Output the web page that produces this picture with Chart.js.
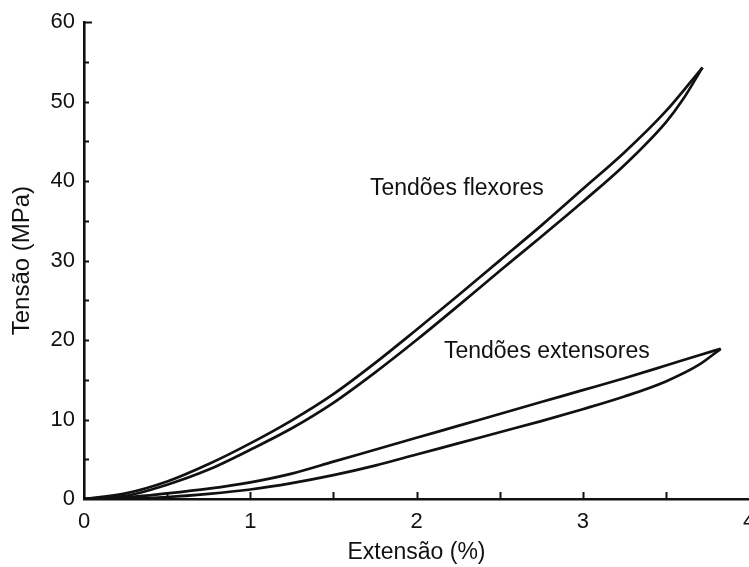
<!DOCTYPE html>
<html><head><meta charset="utf-8">
<script src="https://cdn.jsdelivr.net/npm/chart.js@4/dist/chart.umd.min.js"></script>
<style>
html,body{margin:0;padding:0;background:#fff;overflow:hidden;width:749px;height:567px}
#wrap{width:770px;height:567px;position:relative}
</style></head>
<body><div id="wrap"><canvas id="c"></canvas></div>
<script>
// Extensão (%) / Tensão (MPa)
const flexorLoadingX   = [0, 0.25, 0.5, 0.75, 1.0, 1.25, 1.5, 1.75, 2.0, 2.25, 2.5, 2.75, 3.0, 3.25, 3.5, 3.72];
const flexorLoadingY   = [0, 0.7, 2.2, 4.4, 7.0, 9.9, 13.2, 17.1, 21.3, 25.6, 30.0, 34.4, 39.0, 43.6, 48.8, 54.3];
const flexorUnloadingX = [0, 0.25, 0.5, 0.75, 1.0, 1.25, 1.5, 1.75, 2.0, 2.25, 2.5, 2.75, 3.0, 3.25, 3.5, 3.6, 3.72];
const flexorUnloadingY = [0, 0.4, 1.8, 3.7, 6.2, 8.9, 12.1, 15.9, 20.0, 24.3, 28.7, 33.0, 37.4, 42.0, 47.4, 50.2, 54.3];
const extensorLoadingX   = [0, 0.25, 0.5, 0.75, 1.0, 1.25, 1.5, 1.75, 2.0, 2.25, 2.5, 2.75, 3.0, 3.25, 3.5, 3.7, 3.83];
const extensorLoadingY   = [0, 0.2, 0.7, 1.3, 2.1, 3.2, 4.7, 6.2, 7.7, 9.2, 10.7, 12.2, 13.7, 15.2, 16.8, 18.1, 18.9];
const extensorUnloadingX = [0, 0.25, 0.5, 0.75, 1.0, 1.25, 1.5, 1.75, 2.0, 2.25, 2.5, 2.75, 3.0, 3.25, 3.5, 3.7, 3.83];
const extensorUnloadingY = [0, 0.05, 0.25, 0.65, 1.2, 2.0, 3.0, 4.2, 5.6, 7.0, 8.4, 9.8, 11.3, 12.9, 14.8, 16.9, 18.9];
const curveLabels = ['Tendões flexores', 'Tendões extensores'];
const labelAnchorX = [1.72, 2.165];
const labelAnchorY = [38.3, 17.7];
const xTitle = 'Extensão (%)';
const yTitle = 'Tensão (MPa)';

const INK = '#111';
const FONT = '"Liberation Sans", Arial, Helvetica, sans-serif';
const pts = (xs, ys) => xs.map((x, i) => ({x, y: ys[i]}));
const ds = (xs, ys, name) => ({
  label: name, data: pts(xs, ys), showLine: true, borderColor: INK, borderWidth: 2.7,
  pointRadius: 0, fill: false, cubicInterpolationMode: 'monotone'
});

const extras = {
  id: 'extras',
  afterDatasetsDraw(chart) {
    const {ctx, scales: {x, y}} = chart;
    ctx.save();
    ctx.strokeStyle = INK; ctx.lineWidth = 2; ctx.lineCap = 'butt';
    const x0 = x.getPixelForValue(0), y0 = y.getPixelForValue(0);
    for (let v = 5; v <= 60; v += 5) {
      const py = Math.round(y.getPixelForValue(v)) + 0.5;
      ctx.beginPath(); ctx.moveTo(x0, py); ctx.lineTo(x0 + (v === 60 ? 8 : 5), py); ctx.stroke();
    }
    for (let v = 0.5; v < 4; v += 0.5) {
      const px = Math.round(x.getPixelForValue(v)) + 0.5;
      ctx.beginPath(); ctx.moveTo(px, y0); ctx.lineTo(px, y0 - 7); ctx.stroke();
    }
    ctx.fillStyle = INK; ctx.font = '23px ' + FONT; ctx.textAlign = 'left'; ctx.textBaseline = 'alphabetic';
    curveLabels.forEach((t, i) => ctx.fillText(t, x.getPixelForValue(labelAnchorX[i]), y.getPixelForValue(labelAnchorY[i])));
    ctx.restore();
  }
};

new Chart(document.getElementById('c'), {
  type: 'scatter',
  data: { datasets: [
    ds(flexorLoadingX, flexorLoadingY, 'Flexores (carga)'),
    ds(flexorUnloadingX, flexorUnloadingY, 'Flexores (descarga)'),
    ds(extensorLoadingX, extensorLoadingY, 'Extensores (carga)'),
    ds(extensorUnloadingX, extensorUnloadingY, 'Extensores (descarga)')
  ]},
  options: {
    responsive: true, maintainAspectRatio: false, animation: false,
    layout: { padding: { top: 14, right: 21, left: 0, bottom: 0 } },
    plugins: { legend: { display: false }, tooltip: { enabled: false } },
    scales: {
      x: {
        type: 'linear', min: 0, max: 4,
        ticks: { stepSize: 1, color: INK, font: { family: FONT, size: 22 }, padding: 10 },
        grid: { drawOnChartArea: false, drawTicks: false },
        border: { display: true, color: INK, width: 2.6 },
        title: { display: true, text: xTitle, color: INK, font: { family: FONT, size: 23 }, padding: { top: 0, bottom: 1 } },
        afterFit(s) { s.height = 68; }
      },
      y: {
        type: 'linear', min: 0, max: 60,
        ticks: { stepSize: 10, color: INK, font: { family: FONT, size: 22 }, padding: 9 },
        grid: { drawOnChartArea: false, drawTicks: false },
        border: { display: true, color: INK, width: 2.6 },
        title: { display: true, text: yTitle, color: INK, font: { family: FONT, size: 24 }, padding: { top: 8, bottom: 0 } },
        afterFit(s) { s.width = 84; }
      }
    }
  },
  plugins: [extras]
});
</script>
</body></html>
